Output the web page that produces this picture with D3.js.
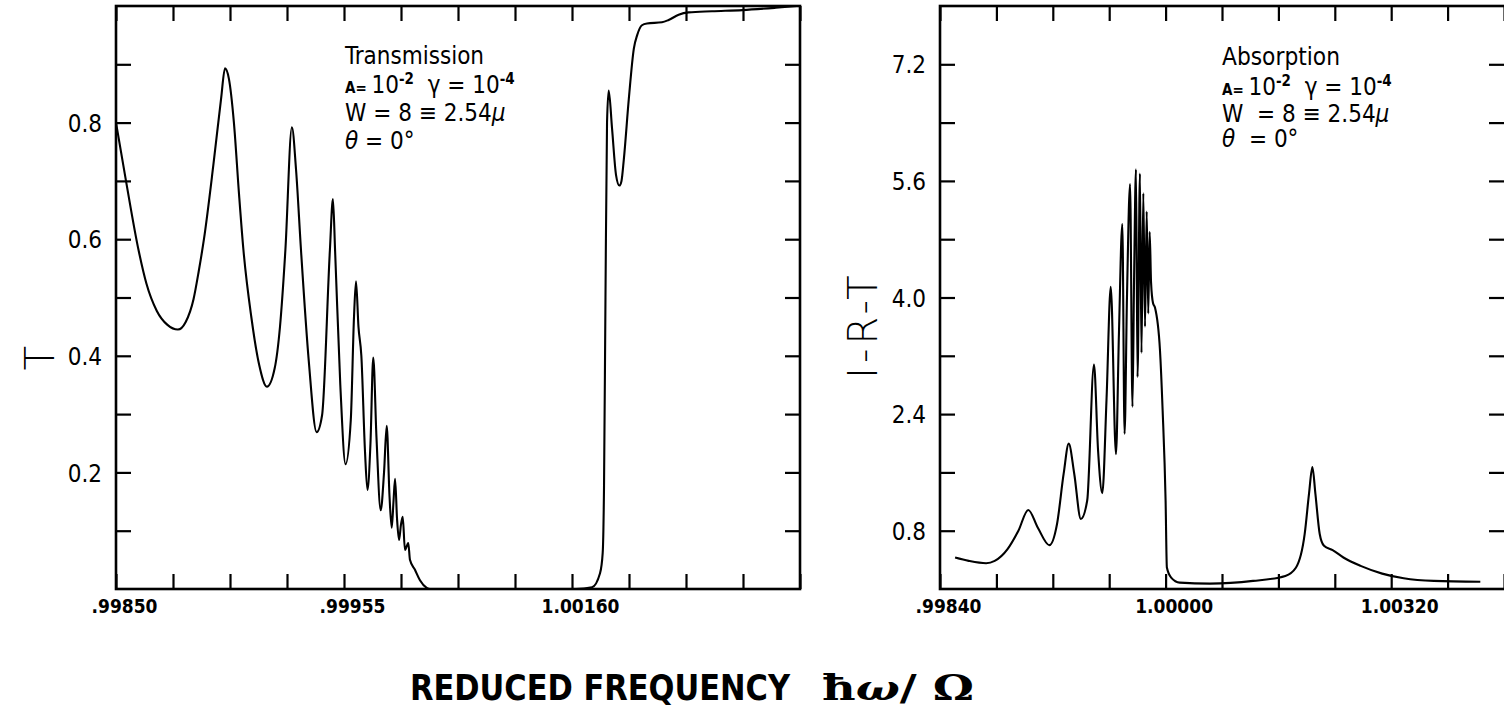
<!DOCTYPE html>
<html><head><meta charset="utf-8">
<script src="https://cdn.jsdelivr.net/npm/d3@7"></script>
<style>body{margin:0;background:#fff;} svg{display:block;}</style>
</head><body>
<svg id="c" width="1504" height="715"></svg>
<script>
// ---------- data ----------
const transFreq = [0.998500,0.998546,0.998604,0.998640,0.998688,0.998737,0.998785,0.998821,0.998857,0.998881,0.998905,0.998948,0.998984,0.999002,0.999020,0.999043,0.999066,0.999087,0.999123,0.999159,0.999195,0.999231,0.999255,0.999280,0.999310,0.999329,0.999352,0.999388,0.999424,0.999449,0.999485,0.999499,0.999509,0.999533,0.999564,0.999611,0.999640,0.999658,0.999680,0.999706,0.999739,0.999761,0.999788,0.999813,0.999842,0.999880,0.999910,0.999934,0.999959,0.999979,0.999995,1.000009,1.000027,1.000045,1.000062,1.000078,1.000098,1.000128,1.000143,1.000188,1.000233,1.000294,1.000323,1.001636,1.001780,1.001852,1.001876,1.001888,1.001901,1.001915,1.001930,1.001960,1.001996,1.002026,1.002045,1.002066,1.002111,1.002156,1.002186,1.002229,1.002274,1.002409,1.002469,1.002559,1.002648,1.002859,1.003131,1.003432,1.003623];
const transT = [0.80,0.70,0.581,0.524,0.477,0.453,0.445,0.458,0.497,0.545,0.600,0.726,0.841,0.893,0.875,0.80,0.68,0.581,0.467,0.385,0.347,0.379,0.449,0.581,0.792,0.72,0.581,0.39,0.269,0.298,0.581,0.669,0.58,0.35,0.214,0.29,0.467,0.528,0.45,0.40,0.235,0.17,0.25,0.397,0.26,0.135,0.20,0.28,0.16,0.105,0.15,0.189,0.12,0.084,0.11,0.124,0.067,0.079,0.05,0.033,0.015,0.002,0,0,0.003,0.027,0.062,0.177,0.50,0.80,0.855,0.79,0.71,0.692,0.70,0.737,0.841,0.927,0.95,0.967,0.970,0.972,0.976,0.985,0.989,0.991,0.993,0.997,1.0];

const absFreq = [0.998507,0.998604,0.998727,0.998788,0.998879,0.998956,0.999026,0.999093,0.999176,0.999230,0.999277,0.999313,0.999352,0.999399,0.999444,0.999492,0.999521,0.999551,0.999581,0.999611,0.999648,0.999669,0.999693,0.999709,0.999726,0.999748,0.999765,0.999776,0.999790,0.999801,0.999818,0.999829,0.999842,0.999854,0.999866,0.999877,0.999887,0.999897,0.999911,0.999925,0.999960,0.999979,1.000000,1.000018,1.000079,1.000201,1.000628,1.001240,1.001698,1.001850,1.001973,1.002034,1.002082,1.002125,1.002186,1.002247,1.002369,1.002522,1.002766,1.003072,1.003377,1.003804,1.004464];
const absA = [0.432,0.386,0.354,0.386,0.548,0.80,1.085,0.845,0.602,0.892,1.582,1.995,1.582,0.96,1.214,3.08,1.903,1.315,2.6,4.148,1.85,3.5,5.009,2.13,4.0,5.557,2.50,4.2,5.759,2.91,5.70,3.24,5.43,3.60,5.18,3.78,4.9,4.2,3.92,3.86,3.28,2.45,1.21,0.295,0.157,0.088,0.074,0.111,0.18,0.295,0.755,1.305,1.673,1.305,0.755,0.593,0.534,0.432,0.317,0.211,0.147,0.111,0.10];

// axis ticks (labels as printed on the original; the printed step doubles after the 4th tick)
const transXTicks = [0.99850,0.9987625,0.999025,0.9992875,0.99955,1.0000625,1.000575,1.0010875,1.00160,1.0021125,1.002625,1.0031375,1.00365];
const transXLabels = ['.99850','','','','.99955','','','','1.00160','','','',''];
const transYTicks = [0.1,0.2,0.3,0.4,0.5,0.6,0.7,0.8,0.9];
const transYLabels = ['','0.2','','0.4','','0.6','','0.8',''];

const absXTicks = [0.99840,0.99880,0.99920,0.99960,1.00000,1.00080,1.00160,1.00240,1.00320,1.00400,1.00480];
const absXLabels = ['.99840','','','','1.00000','','','','1.00320','',''];
const absYTicks = [0.8,1.6,2.4,3.2,4.0,4.8,5.6,6.4,7.2];
const absYLabels = ['0.8','','2.4','','4.0','','5.6','','7.2'];

// ---------- drawing ----------
const svg = d3.select('#c');
const NARROW = "'Liberation Sans Narrow','DejaVu Sans Condensed',sans-serif";
const TOP = 6, BOTTOM = 589, TICK = 15;

function panel(cfg){
  const x = d3.scaleLinear().domain(cfg.xDomain).range(cfg.xRange);
  const y = d3.scaleLinear().domain(cfg.yDomain).range([BOTTOM, TOP]);
  const x0 = cfg.xRange[0], x1 = cfg.xRange[cfg.xRange.length-1];
  const g = svg.append('g');

  const bx = g.append('g').attr('transform',`translate(0,${BOTTOM})`)
    .call(d3.axisBottom(x).tickValues(cfg.xTicks).tickSize(-TICK).tickSizeOuter(0)
      .tickFormat((d,i)=>cfg.xLabels[i]));
  bx.selectAll('text').attr('y',11).attr('dy','0.71em').attr('dx',8)
    .style('font-family',NARROW).style('font-weight','bold').style('font-size','19px').attr('fill','#000');
  g.append('g').attr('transform',`translate(0,${TOP})`)
    .call(d3.axisTop(x).tickValues(cfg.xTicks).tickSize(-TICK).tickSizeOuter(0).tickFormat(''));
  const ly = g.append('g').attr('transform',`translate(${x0},0)`)
    .call(d3.axisLeft(y).tickValues(cfg.yTicks).tickSize(-TICK).tickSizeOuter(0)
      .tickFormat((d,i)=>cfg.yLabels[i]));
  ly.selectAll('text').attr('x',-14).attr('dy','0.36em')
    .style('font-family',NARROW).style('font-size','24px').attr('fill','#000');
  g.append('g').attr('transform',`translate(${x1},0)`)
    .call(d3.axisRight(y).tickValues(cfg.yTicks).tickSize(-TICK).tickSizeOuter(0).tickFormat(''));

  g.selectAll('.domain').remove();
  g.selectAll('.tick line').attr('stroke','#000').attr('stroke-width',2.2);

  g.append('rect').attr('x',x0).attr('y',TOP).attr('width',x1-x0+cfg.frameExtra).attr('height',BOTTOM-TOP)
    .attr('fill','none').attr('stroke','#000').attr('stroke-width',2.6);

  const pts = cfg.xs.map((v,i)=>[v,cfg.ys[i]]);
  g.append('path').datum(pts)
    .attr('d',d3.line().x(d=>x(d[0])).y(d=>y(d[1])).curve(d3.curveMonotoneX))
    .attr('fill','none').attr('stroke','#000').attr('stroke-width',2.1).attr('stroke-linejoin','round');

  g.append('text').attr('transform',`translate(${cfg.titlePos[0]},${cfg.titlePos[1]}) rotate(-90)`)
    .attr('text-anchor','middle').attr('dy','0.36em')
    .style('font-family',"'DejaVu Sans',sans-serif").style('font-size','40px').style('font-weight','300')
    .attr('letter-spacing',cfg.titleSpacing).attr('fill','#000').text(cfg.title);

  const ax = cfg.annX, ab = cfg.annY;
  const ann = g.append('g').style('font-family',NARROW).attr('fill','#000');
  ann.append('text').attr('x',ax).attr('y',ab[0]).style('font-size','24px')
    .attr('textLength',cfg.headLen).attr('lengthAdjust','spacingAndGlyphs').text(cfg.head);
  const t2 = ann.append('text').attr('x',ax).attr('y',ab[1]).style('font-size','24px');
  t2.append('tspan').style('font-size','15px').style('font-weight','bold').text('A= ');
  t2.append('tspan').text('10');
  t2.append('tspan').attr('dy',-9).style('font-size','15px').style('font-weight','bold').text('-2');
  t2.append('tspan').attr('dy',9).text(' \u00a0γ = 10');
  t2.append('tspan').attr('dy',-9).style('font-size','15px').style('font-weight','bold').text('-4');
  const t3 = ann.append('text').attr('x',ax).attr('y',ab[2]).style('font-size','24px');
  t3.append('tspan').text(cfg.wText);
  t3.append('tspan').style('font-style','italic').text('μ');
  const t4 = ann.append('text').attr('x',ax).attr('y',ab[3]).style('font-size','24px');
  t4.append('tspan').style('font-style','italic').text('θ');
  t4.append('tspan').text(cfg.thText);
}

panel({
  xDomain:[0.99850,0.99955,1.00160,1.00365], xRange:[116,344,572,800], frameExtra:0,
  yDomain:[0,1],
  xTicks:transXTicks, xLabels:transXLabels, yTicks:transYTicks, yLabels:transYLabels,
  xs:transFreq, ys:transT,
  title:'T', titlePos:[40,358], titleSpacing:0,
  annX:345, annY:[64,93,121,149], head:'Transmission', headLen:139,
  wText:'W = 8 ≡ 2.54', thText:' = 0°'
});

panel({
  xDomain:[0.99840,1.00000,1.00480], xRange:[940,1165.6,1504], frameExtra:4,
  yDomain:[0,8],
  xTicks:absXTicks, xLabels:absXLabels, yTicks:absYTicks, yLabels:absYLabels,
  xs:absFreq, ys:absA,
  title:'I-R-T', titlePos:[863,325], titleSpacing:4,
  annX:1222, annY:[65,95,122,147], head:'Absorption', headLen:118,
  wText:'W \u00a0= 8 ≡ 2.54', thText:' \u00a0= 0°'
});

svg.append('text').attr('x',410).attr('y',700)
  .style('font-family',NARROW).style('font-weight','bold').style('font-size','36px')
  .attr('textLength',380).attr('lengthAdjust','spacingAndGlyphs')
  .attr('fill','#000').text('REDUCED  FREQUENCY');
svg.append('text').attr('x',822).attr('y',700)
  .style('font-family',"'DejaVu Serif',serif").style('font-weight','bold').style('font-size','36px')
  .attr('textLength',152).attr('lengthAdjust','spacingAndGlyphs')
  .attr('fill','#000').html('ħ<tspan font-style="italic">ω</tspan>/ Ω');
</script>
</body></html>
